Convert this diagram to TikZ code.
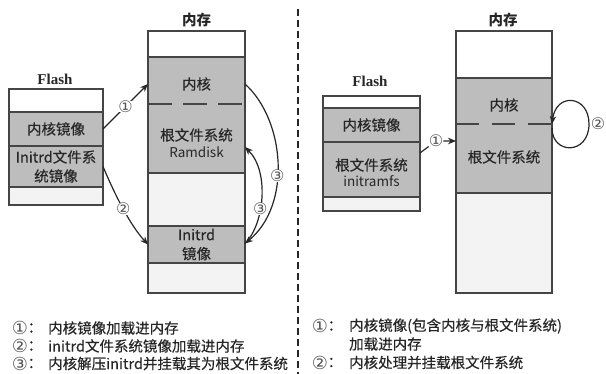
\documentclass[tikz,border=0pt]{standalone}
\usepackage{fontspec}
\setmainfont{Noto Sans CJK SC}
\newfontfamily\serifb{Liberation Serif}
\newfontfamily\symf{DejaVu Sans}
\newfontfamily\cjkb[FakeBold=0.4]{Noto Sans CJK SC}
\usetikzlibrary{arrows.meta}
\definecolor{cgray}{HTML}{BDBDBD}
\definecolor{clight}{HTML}{F3F3F3}
\definecolor{cline}{HTML}{454545}
\definecolor{ctext}{HTML}{262626}
\definecolor{cnum}{HTML}{555555}
\begin{document}
\begin{tikzpicture}[x=1pt,y=-1pt,
  cell/.style={draw=cline, line width=1.3pt, inner sep=0pt, outer sep=0pt},
  wcell/.style={cell, fill=white},
  gcell/.style={cell, fill=cgray},
  lcell/.style={cell, fill=clight},
  txt/.style={text=ctext, font=\fontsize{14.5}{19}\cjkb, inner sep=0pt, align=center},
  ltxt/.style={text=ctext, font=\fontsize{13.5}{16}\selectfont, inner sep=0pt},
  ttl/.style={text=ctext, font=\fontsize{14.5}{17}\selectfont\bfseries, inner sep=0pt},
  fls/.style={text=ctext, font=\fontsize{15}{17}\serifb\bfseries, inner sep=0pt},
  num/.style={text=cnum, fill=white, inner sep=0pt, font=\fontsize{16}{16}\symf},
  leg/.style={text=ctext, font=\fontsize{14.5}{17}\cjkb, inner sep=0pt, anchor=west},
  legn/.style={text=cnum, font=\fontsize{18}{18}\symf, inner sep=0pt},
  legc/.style={text=ctext, font=\fontsize{14.5}{17}\cjkb, inner sep=0pt},
  conn/.style={draw=ctext, line width=1.2pt},
  arr/.style={conn, -{Stealth[length=8pt,width=6.5pt]}},
  mdash/.style={draw=cline, line width=1.6pt, dash pattern=on 24pt off 11pt},
]
\useasboundingbox (0,0) rectangle (606,374);

% ---------------- left: Flash ----------------
\node[fls] (flashL) at (55,79) {Flash};
\node[wcell, minimum width=94pt, minimum height=23pt] (fw) at (56,100.5) {};
\node[gcell, minimum width=94pt, minimum height=34pt, txt] (fk) at (56,129) {内核镜像};
\node[gcell, minimum width=94pt, minimum height=41pt, txt] (fi) at (56,166.5) {Initrd文件系\\统镜像};
\node[lcell, minimum width=94pt, minimum height=18pt] (fb) at (56,196) {};

% ---------------- left: memory ----------------
\node[ttl] (memL) at (196.5,20) {内存};
\node[wcell, minimum width=97pt, minimum height=26pt] (mw) at (196.5,44) {};
\node[gcell, minimum width=97pt, minimum height=116pt] (mk) at (196.5,115) {};
\node[lcell, minimum width=97pt, minimum height=53pt] (ml) at (196.5,199.5) {};
\node[gcell, minimum width=97pt, minimum height=37pt, txt] (mi) at (196.5,244.5) {Initrd\\镜像};
\node[lcell, minimum width=97pt, minimum height=30pt] (mb) at (196.5,278) {};
\draw[mdash] ([yshift=-47pt]mk.north west) -- ([yshift=-47pt]mk.north east);
\node[txt] (mkt) at (196.5,84) {内核};
\node[txt] (mrt) at (196.5,135) {根文件系统};
\node[ltxt] (mrd) at (196.5,152) {Ramdisk};

% arrows left
\draw[arr] (fk.east) -- node[num]{①} (mk.west |- mkt);
\draw[arr] (fi.east) .. controls (115,195) and (130,225) .. node[num]{②} (mi.west);
\draw[arr] (mk.east |- mkt) .. controls (285,120) and (292,205) .. node[num, pos=0.57]{③} ([yshift=1pt]mi.east);
\draw[arr] ([yshift=1pt]mi.east) .. controls (264,225) and (270,172) .. node[num, pos=0.4]{③} ([yshift=26pt]mk.south east);

% divider
\draw[draw=ctext, line width=1.3pt, dash pattern=on 7pt off 4pt] (298,9) -- (298,374);

% ---------------- right: Flash ----------------
\node[fls] (flashR) at (370,81) {Flash};
\node[wcell, minimum width=97pt, minimum height=12pt] (rfw) at (371.5,102) {};
\node[gcell, minimum width=97pt, minimum height=34pt, txt] (rfk) at (371.5,125) {内核镜像};
\node[gcell, minimum width=97pt, minimum height=55pt] (rfr) at (371.5,169.5) {};
\node[lcell, minimum width=97pt, minimum height=14pt] (rfb) at (371.5,204) {};
\node[txt] (rfrt) at (371.5,165) {根文件系统};
\node[ltxt] (rfri) at (371.5,181) {initramfs};

% ---------------- right: memory ----------------
\node[ttl] (memR) at (503,20) {内存};
\node[wcell, minimum width=96pt, minimum height=47pt] (rmw) at (504,54.5) {};
\node[gcell, minimum width=96pt, minimum height=115pt] (rmk) at (504,135.5) {};
\node[lcell, minimum width=96pt, minimum height=100pt] (rml) at (504,243) {};
\draw[mdash, dash pattern=on 23pt off 13pt] ([yshift=-46pt]rmk.north west) -- ([yshift=-46pt]rmk.north east);
\node[txt] (rmkt) at (504,105) {内核};
\node[txt] (rmrt) at (504,157) {根文件系统};

% arrows right
\node[num] (c1r) at (436,141) {①};
\draw[arr] ([yshift=-11pt]rfr.north east) -- (c1r) -- (rmk.west |- c1r);
\node[num] (c2r) at (598,124) {②};
\draw[arr] ([yshift=-50pt]rmk.north east) .. controls (552,155) and (589,155) .. (589,124)
  .. controls (589,95) and (556,92) .. ([yshift=-46pt]rmk.north east);

% ---------------- legends ----------------
\node[legn] (a1) at (20,328) {①};
\node[legc] (a1c) at (35,328) {：};
\node[leg] (a1t) at (48,328) {内核镜像加载进内存};
\node[legn] (a2) at (20,346) {②};
\node[legc] (a2c) at (35,346) {：};
\node[leg] (a2t) at (48,346) {initrd文件系统镜像加载进内存};
\node[legn] (a3) at (20,363.5) {③};
\node[legc] (a3c) at (35,363.5) {：};
\node[leg] (a3t) at (48,363.5) {内核解压initrd并挂载其为根文件系统};

\node[legn] (b1) at (320,326) {①};
\node[legc] (b1c) at (335,326) {：};
\node[leg] (b1t) at (349,326) {内核镜像(包含内核与根文件系统)};
\node[leg] (b1u) at (349,344) {加载进内存};
\node[legn] (b2) at (320,362.5) {②};
\node[legc] (b2c) at (335,362.5) {：};
\node[leg] (b2t) at (349,362.5) {内核处理并挂载根文件系统};
\end{tikzpicture}
\end{document}
